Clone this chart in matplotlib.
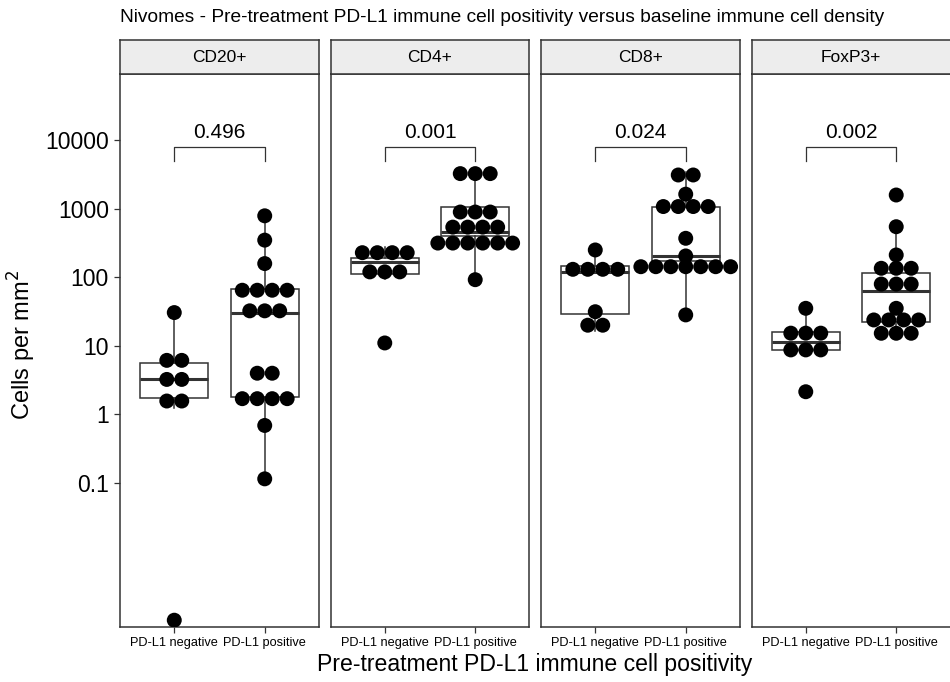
import numpy as np
import matplotlib
matplotlib.use('Agg')
import matplotlib.pyplot as plt
from matplotlib import cbook
from matplotlib.ticker import NullLocator

plt.rcParams['font.family'] = ['Liberation Sans', 'DejaVu Sans']

#%% data (cells per mm2)

markers = ['CD20+', 'CD4+', 'CD8+', 'FoxP3+']
groups = ['PD-L1 negative', 'PD-L1 positive']
p_values = ['0.496', '0.001', '0.024', '0.002']

cd20_neg = [0.001, 1.26, 1.95, 2.63, 3.98, 5.27, 7.14, 30.5]
cd20_pos = [0.115, 0.69, 1.58, 1.66, 1.80, 1.82, 3.55, 4.47, 25.7, 35.5, 40.7,
            52.5, 63.1, 67.6, 79.4, 158, 347, 785]

cd4_neg = [11.0, 93.3, 120.2, 153.1, 186.2, 186.2, 195.0, 278.6]
cd4_pos = [92.0, 245.5, 281.8, 331.1, 398.1, 398.1, 402.7, 426.6, 457.1, 562.3,
           676.1, 741.3, 1071.5, 1071.5, 2818, 3162, 3715]

cd8_neg = [16.6, 24.0, 31.4, 102.3, 141.3, 141.3, 166.0, 249.5]
cd8_pos = [28.2, 114.8, 125.9, 141.3, 173.8, 173.8, 175.8, 176.2, 204.2, 369,
           851, 1000, 1072, 1349, 1622, 2818, 3388]

foxp3_neg = [2.14, 7.59, 9.12, 10.0, 12.7, 14.8, 18.4, 35.2]
foxp3_pos = [12.6, 15.8, 18.4, 21.0, 22.4, 25.1, 27.0, 35.2, 62.4, 79.4, 101.2,
             107.2, 116.4, 169.8, 210.9, 544.5, 1578]

panel_data = [(cd20_neg, cd20_pos), (cd4_neg, cd4_pos),
              (cd8_neg, cd8_pos), (foxp3_neg, foxp3_pos)]

#%% helpers

binwidth = 0.218   # in log10 units, same as the dot diameter


def dot_bins(vals, bw):
    # dot-density binning like ggplot geom_dotplot
    v = np.sort(np.log10(vals))
    bins = []
    end = -np.inf
    for x in v:
        if x >= end:
            bins.append([x])
            end = x + bw
        else:
            bins[-1].append(x)
    return [((b[0] + b[-1]) / 2, len(b)) for b in bins]


#%% figure

W, H = 950, 682
fig = plt.figure(figsize=(W / 100, H / 100), dpi=100)

lefts = [120, 330.5, 541, 751.5]
pw = 199
top, bottom = 74, 627
strip_top = 40
ylo, yhi = -3.099, 4.962
dark = '#333333'

ph = bottom - top
px_per_dec = ph / (yhi - ylo)
d_px = binwidth * px_per_dec
dx = d_px / (pw / 2.2)
ms = (d_px * 72 / 100) ** 2

for i, (name, (neg, pos)) in enumerate(zip(markers, panel_data)):
    ax = fig.add_axes([lefts[i] / W, (H - bottom) / H, pw / W, ph / H])
    ax.set_yscale('log')
    ax.set_ylim(10 ** ylo, 10 ** yhi)
    ax.set_xlim(0.4, 2.6)

    for pos_x, vals in zip([1, 2], [neg, pos]):
        st = cbook.boxplot_stats(np.log10(vals), whis=1.5)[0]
        for k in ['med', 'q1', 'q3', 'whislo', 'whishi']:
            st[k] = 10 ** st[k]
        st['fliers'] = []
        ax.bxp([st], positions=[pos_x], widths=0.75, showfliers=False,
               showcaps=False, patch_artist=True,
               boxprops=dict(facecolor='white', edgecolor=dark, linewidth=1.1),
               whiskerprops=dict(color=dark, linewidth=1.1),
               medianprops=dict(color=dark, linewidth=2.2),
               zorder=2)

        xs, ys = [], []
        for c, n in dot_bins(vals, binwidth):
            for j in range(n):
                xs.append(pos_x + (j - (n - 1) / 2) * dx)
                ys.append(10 ** c)
        ax.scatter(xs, ys, s=ms, color='black', edgecolor='none', zorder=3)

    # p-value bracket
    yb, yd = 10 ** 3.894, 10 ** 3.70
    ax.plot([1, 1, 2, 2], [yd, yb, yb, yd], color=dark, linewidth=0.9)
    ax.text(1.5, 10 ** 3.975, p_values[i], ha='center', va='bottom',
            fontsize=15, color='black')

    ax.set_xticks([1, 2])
    ax.set_xticklabels(groups, fontsize=9.2, color='black')
    ax.tick_params(axis='x', length=4, width=0.9, color=dark, pad=3)
    ax.yaxis.set_minor_locator(NullLocator())
    if i == 0:
        ax.set_yticks([0.1, 1, 10, 100, 1000, 10000])
        ax.set_yticklabels(['0.1', '1', '10', '100', '1000', '10000'],
                           fontsize=16.5, color='black')
        ax.tick_params(axis='y', length=4, width=0.9, color=dark, pad=4)
    else:
        ax.set_yticks([])
    for sp in ax.spines.values():
        sp.set_color(dark)
        sp.set_linewidth(1.1)

    # facet strip
    sax = fig.add_axes([lefts[i] / W, (H - top) / H, pw / W, (top - strip_top) / H])
    sax.set_facecolor('#ededed')
    sax.set_xticks([])
    sax.set_yticks([])
    for sp in sax.spines.values():
        sp.set_color(dark)
        sp.set_linewidth(1.1)
    sax.text(0.5, 0.5, name, ha='center', va='center', fontsize=12.5,
             transform=sax.transAxes)

fig.text(120 / W, 1 - 18 / H,
         'Nivomes - Pre-treatment PD-L1 immune cell positivity versus baseline immune cell density',
         ha='left', va='center', fontsize=13.8)
fig.text(535 / W, 1 - 665 / H, 'Pre-treatment PD-L1 immune cell positivity',
         ha='center', va='center', fontsize=16.6)
fig.text(22 / W, 1 - 345 / H, 'Cells per mm$^2$', rotation=90,
         ha='center', va='center', fontsize=17)

fig.savefig('out.png', dpi=100)
plt.close()
